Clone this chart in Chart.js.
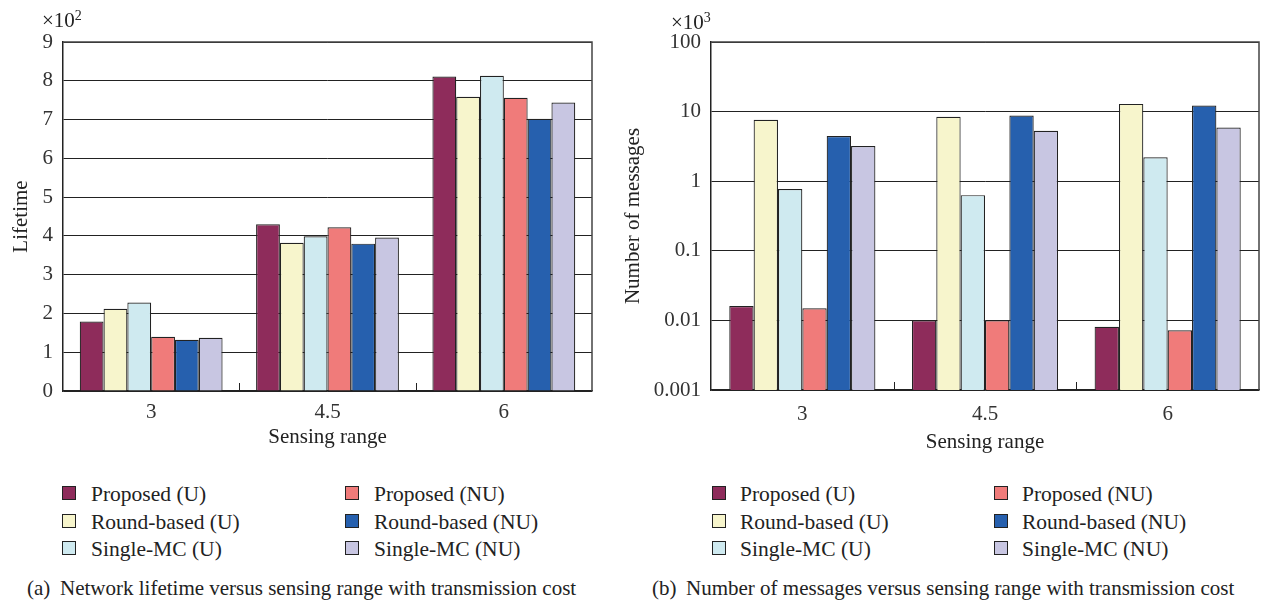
<!DOCTYPE html>
<html>
<head>
<meta charset="utf-8">
<script src="https://cdn.jsdelivr.net/npm/chart.js@4/dist/chart.umd.min.js"></script>
<style>
  body { margin: 0; width: 1268px; height: 604px; background: #fff; position: relative; overflow: hidden;
         font-family: "Liberation Serif", "DejaVu Serif", serif; color: #222; }
  .wrap { position: absolute; top: 0; height: 460px; }
  .mult { position: absolute; font-size: 21px; line-height: 21px; }
  .mult sup { font-size: 14px; vertical-align: 7px; }
  .leg { position: absolute; font-size: 21.5px; line-height: 20px; white-space: nowrap; }
  .leg .sw { position: absolute; width: 12px; height: 12px; border: 1.5px solid #222; top: 2px; }
  .cap { position: absolute; top: 578px; font-size: 21px; line-height: 20px; white-space: nowrap; }
</style>
</head>
<body>
<div class="wrap" style="left:0;width:600px"><canvas id="lifeChart" width="600" height="460"></canvas></div>
<div class="wrap" style="left:610px;width:658px"><canvas id="msgChart" width="658" height="460"></canvas></div>
<div class="mult" style="left:42px;top:5px">×10<sup>2</sup></div>
<div class="mult" style="left:671px;top:7px">×10<sup>3</sup></div>
<div id="legA"></div>
<div id="legB"></div>
<div class="cap" style="left:27px">(a)</div>
<div class="cap" style="left:60px">Network lifetime versus sensing range with transmission cost</div>
<div class="cap" style="left:652px">(b)</div>
<div class="cap" style="left:686px">Number of messages versus sensing range with transmission cost</div>
<script>
// sensing range categories
const ranges = ['3', '4.5', '6']
const seriesNames = ['Proposed (U)', 'Round-based (U)', 'Single-MC (U)', 'Proposed (NU)', 'Round-based (NU)', 'Single-MC (NU)']
const seriesColors = ['#8e2c5b', '#f7f5cc', '#cfeaf0', '#f07b7a', '#2660ae', '#c8c6e2']

// (a) lifetime, x10^2
const lifeProposedU = [1.79, 4.30, 8.11]
const lifeRoundU = [2.12, 3.82, 7.59]
const lifeSingleU = [2.28, 3.99, 8.13]
const lifeProposedNU = [1.40, 4.22, 7.56]
const lifeRoundNU = [1.32, 3.80, 7.02]
const lifeSingleNU = [1.37, 3.96, 7.44]

// (b) number of messages, x10^3 (log axis)
const msgProposedU = [0.0161, 0.0100, 0.0081]
const msgRoundU = [7.65, 8.45, 12.9]
const msgSingleU = [0.77, 0.63, 2.2]
const msgProposedNU = [0.0149, 0.0100, 0.0072]
const msgRoundNU = [4.46, 8.8, 12.2]
const msgSingleNU = [3.2, 5.3, 5.9]

const msgTicks = [0.001, 0.01, 0.1, 1, 10, 100]
const msgTickLabels = ['0.001', '0.01', '0.1', '1', '10', '100']

const tickFont = { family: '"Liberation Serif", serif', size: 21 }
const ink = '#222'

// box around the plot + little marks between the groups
const framePlugin = {
    id: 'frame',
    afterDraw(chart) {
        const { ctx, chartArea: a, scales } = chart
        ctx.save()
        ctx.strokeStyle = '#444'
        ctx.lineWidth = 1.5
        ctx.beginPath()
        ctx.moveTo(a.left, a.top)
        ctx.lineTo(a.right, a.top)
        ctx.lineTo(a.right, a.bottom)
        ctx.stroke()
        ctx.strokeStyle = ink
        ctx.lineWidth = 1
        const x = scales.x
        for (let i = 0; i < ranges.length - 1; i++) {
            const bx = Math.round((x.getPixelForValue(i) + x.getPixelForValue(i + 1)) / 2) + 0.5
            ctx.beginPath()
            ctx.moveTo(bx, a.bottom)
            ctx.lineTo(bx, a.bottom - 8)
            ctx.stroke()
        }
        ctx.restore()
    }
}

function makeSets(lists, catPct) {
    return lists.map((d, i) => ({
        label: seriesNames[i],
        data: d,
        backgroundColor: seriesColors[i],
        borderColor: ink,
        borderWidth: 1.2,
        barPercentage: 1,
        categoryPercentage: catPct
    }))
}

function makeLegend(el, col1, col2) {
    const rows = [494, 521.5, 549]
    let html = ''
    seriesNames.forEach((name, i) => {
        const c = i < 3 ? col1 : col2
        const top = rows[i % 3] - 10
        html += '<div class="leg" style="left:' + c[0] + 'px;top:' + top + 'px">' +
            '<span class="sw" style="left:0;background:' + seriesColors[i] + '"></span>' +
            '<span style="position:absolute;left:' + (c[1] - c[0]) + 'px">' + name + '</span></div>'
    })
    document.getElementById(el).innerHTML = html
}

new Chart(document.getElementById('lifeChart').getContext('2d'), {
    type: 'bar',
    data: {
        labels: ranges,
        datasets: makeSets([lifeProposedU, lifeRoundU, lifeSingleU, lifeProposedNU, lifeRoundNU, lifeSingleNU], 0.81)
    },
    options: {
        responsive: false,
        animation: false,
        layout: { padding: { top: 42, right: 8, left: 0, bottom: 0 } },
        plugins: { legend: { display: false }, tooltip: { enabled: false } },
        scales: {
            x: {
                grid: { display: false, drawTicks: false },
                border: { display: true, color: ink, width: 1.5 },
                ticks: { font: tickFont, color: '#333', padding: 9 },
                title: { display: true, text: 'Sensing range', font: tickFont, color: ink, padding: { top: 0, bottom: 10 } },
                afterFit: s => { s.height = 69 }
            },
            y: {
                min: 0,
                max: 9,
                ticks: { stepSize: 1, font: tickFont, color: '#333', padding: 10 },
                grid: { color: ink, lineWidth: 1, drawTicks: false },
                border: { display: true, color: ink, width: 1.5 },
                title: { display: true, text: 'Lifetime', font: tickFont, color: ink, padding: { top: 9, bottom: 0 } },
                afterFit: s => { s.width = 63 }
            }
        }
    },
    plugins: [framePlugin]
})

new Chart(document.getElementById('msgChart').getContext('2d'), {
    type: 'bar',
    data: {
        labels: ranges,
        datasets: makeSets([msgProposedU, msgRoundU, msgSingleU, msgProposedNU, msgRoundNU, msgSingleNU], 0.80)
    },
    options: {
        responsive: false,
        animation: false,
        layout: { padding: { top: 42, right: 9, left: 0, bottom: 0 } },
        plugins: { legend: { display: false }, tooltip: { enabled: false } },
        scales: {
            x: {
                grid: { display: false, drawTicks: false },
                border: { display: true, color: ink, width: 1.5 },
                ticks: { font: tickFont, color: '#333', padding: 12 },
                title: { display: true, text: 'Sensing range', font: tickFont, color: ink, padding: { top: 0, bottom: 5 } },
                afterFit: s => { s.height = 70 }
            },
            y: {
                type: 'logarithmic',
                min: 0.001,
                max: 100,
                afterBuildTicks: s => { s.ticks = msgTicks.map(v => ({ value: v })) },
                ticks: { font: tickFont, color: '#333', padding: 10, callback: (v, i) => msgTickLabels[i] },
                grid: { color: ink, lineWidth: 1, drawTicks: false },
                border: { display: true, color: ink, width: 1.5 },
                title: { display: true, text: 'Number of messages', font: tickFont, color: ink, padding: { top: 11, bottom: 0 } },
                afterFit: s => { s.width = 101 }
            }
        }
    },
    plugins: [framePlugin]
})

makeLegend('legA', [62, 91], [345, 374])
makeLegend('legB', [712, 740], [994, 1022])
</script>
</body>
</html>
